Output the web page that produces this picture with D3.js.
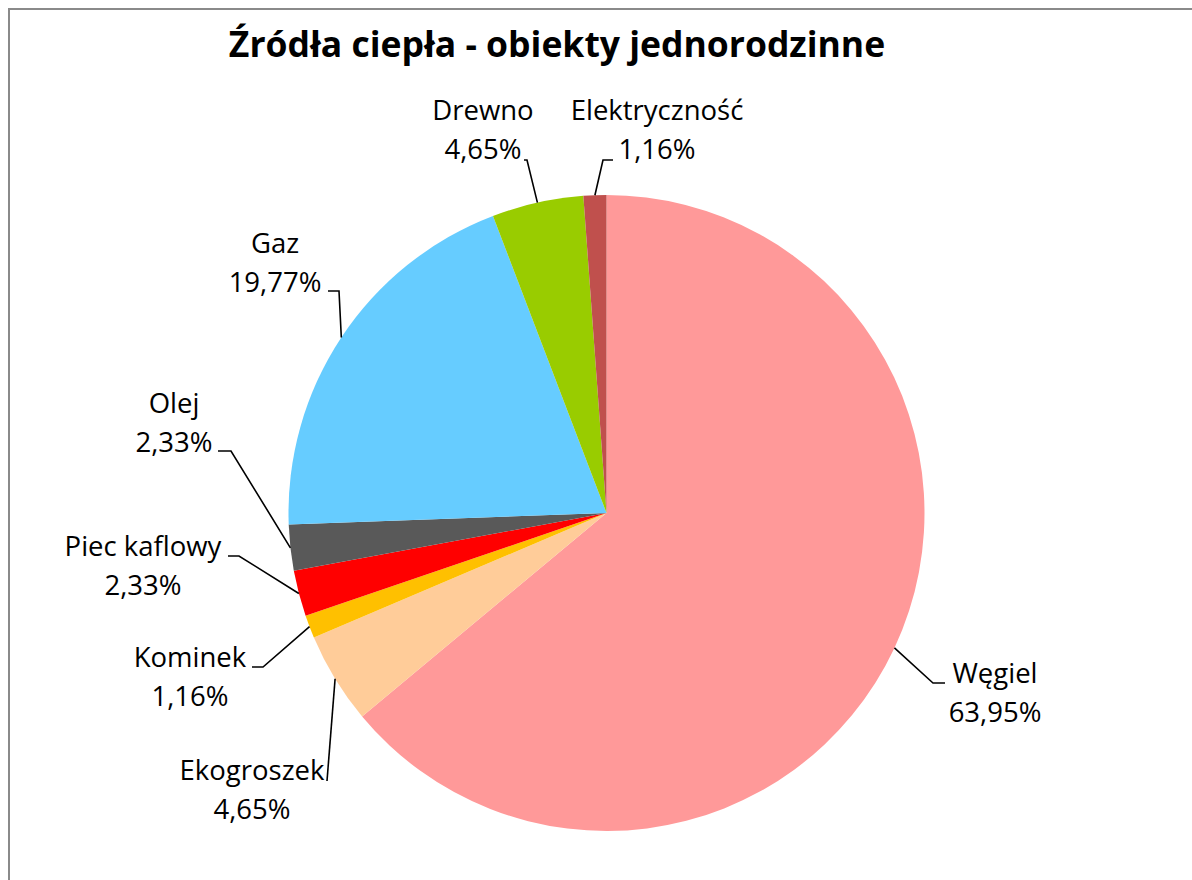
<!DOCTYPE html>
<html>
<head>
<meta charset="utf-8">
<script src="https://cdn.jsdelivr.net/npm/d3@7"></script>
<style>
  html, body { margin: 0; padding: 0; background: #fff; }
  svg { display: block; }
</style>
</head>
<body>
<svg id="chart" width="1192" height="880"></svg>
<script>
// ---- data ----
const title = "Źródła ciepła - obiekty jednorodzinne";
const categories = ["Węgiel", "Ekogroszek", "Kominek", "Piec kaflowy", "Olej", "Gaz", "Drewno", "Elektryczność"];
const values = [63.95, 4.65, 1.16, 2.33, 2.33, 19.77, 4.65, 1.16];
const valueLabels = ["63,95%", "4,65%", "1,16%", "2,33%", "2,33%", "19,77%", "4,65%", "1,16%"];
const colors = ["#FF9999", "#FFCC99", "#FFC000", "#FF0000", "#595959", "#66CCFF", "#99CC00", "#C0504D"];

// ---- layout (label placement, separate from data) ----
const labelLayout = {
  "Węgiel":        { x: 995, y: 683, elbow: [933, 683], end: [945, 683] },
  "Ekogroszek":    { x: 252, y: 780, elbow: [327, 781], end: [327, 781] },
  "Kominek":       { x: 190, y: 667, elbow: [263, 667], end: [252, 667] },
  "Piec kaflowy":  { x: 143, y: 556, elbow: [239, 556], end: [228, 556] },
  "Olej":          { x: 174, y: 413, elbow: [231, 451], end: [218, 451] },
  "Gaz":           { x: 275, y: 253, elbow: [339, 291], end: [328, 291] },
  "Drewno":        { x: 483, y: 120, elbow: [527, 160], end: [524, 160] },
  "Elektryczność": { x: 657, y: 120, elbow: [603, 160], end: [613, 160] }
};

const W = 1192, H = 880;
const cx = 606.5, cy = 513, R = 318;
const fontFamily = "'Open Sans', 'DejaVu Sans', sans-serif";

const svg = d3.select("#chart");

// outer chart border
svg.append("rect")
  .attr("x", 9).attr("y", 9)
  .attr("width", W + 20).attr("height", H + 20)
  .attr("fill", "#fff")
  .attr("stroke", "#8a8a8a")
  .attr("stroke-width", 2);

// title
svg.append("text")
  .attr("x", 557).attr("y", 57)
  .attr("text-anchor", "middle")
  .attr("font-family", fontFamily)
  .attr("font-weight", "bold")
  .attr("font-size", 35.5)
  .attr("fill", "#000")
  .text(title);

const data = categories.map((c, i) => ({ name: c, value: values[i], label: valueLabels[i], color: colors[i] }));

const pie = d3.pie().value(d => d.value).sort(null).startAngle(0).endAngle(2 * Math.PI);
const arcs = pie(data);
const arc = d3.arc().innerRadius(0).outerRadius(R);

const g = svg.append("g").attr("transform", `translate(${cx},${cy})`);
g.selectAll("path.slice")
  .data(arcs)
  .join("path")
  .attr("class", "slice")
  .attr("d", arc)
  .attr("fill", d => d.data.color);

// leader lines: start at slice edge at mid-angle
const leaders = svg.append("g");
arcs.forEach(a => {
  const mid = (a.startAngle + a.endAngle) / 2;
  const sx = cx + R * Math.sin(mid);
  const sy = cy - R * Math.cos(mid);
  const L = labelLayout[a.data.name];
  leaders.append("polyline")
    .attr("points", [[sx, sy], L.elbow, L.end].map(p => p.join(",")).join(" "))
    .attr("fill", "none")
    .attr("stroke", "#000")
    .attr("stroke-width", 1.6);
});

// labels
const labels = svg.append("g")
  .attr("font-family", fontFamily)
  .attr("font-size", 27.5)
  .attr("fill", "#000")
  .attr("text-anchor", "middle");
arcs.forEach(a => {
  const L = labelLayout[a.data.name];
  const t = labels.append("text").attr("x", L.x).attr("y", L.y);
  t.append("tspan").attr("x", L.x).attr("dy", 0).text(a.data.name);
  t.append("tspan").attr("x", L.x).attr("dy", 39).text(a.data.label);
});
</script>
</body>
</html>
